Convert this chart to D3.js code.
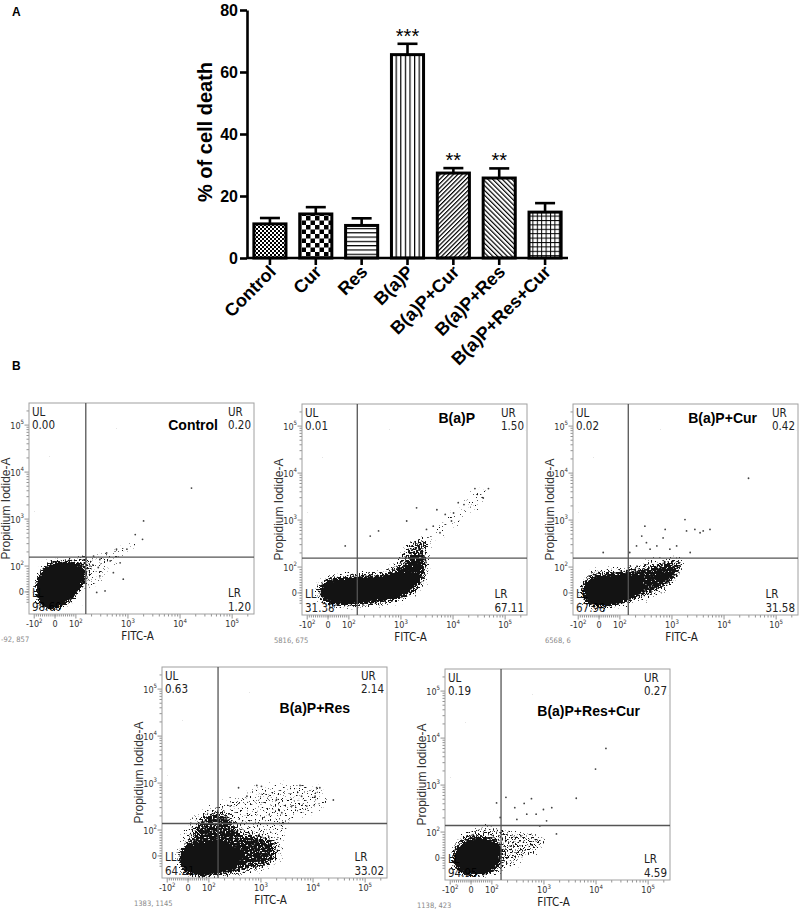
<!DOCTYPE html>
<html><head><meta charset="utf-8">
<script src="https://cdn.jsdelivr.net/npm/d3@7"></script>
<style>body{margin:0;background:#fff} svg{display:block}</style>
</head><body><svg id="c" width="800" height="911"></svg>
<script>
// ================= Panel A data =================
const categories = ["Control","Cur","Res","B(a)P","B(a)P+Cur","B(a)P+Res","B(a)P+Res+Cur"];
const meanDeath = [11.0, 14.2, 10.5, 65.6, 27.4, 25.8, 14.8];
const semDeath  = [1.9, 2.2, 2.3, 3.5, 1.6, 3.1, 2.9];
const significance = ["", "", "", "***", "**", "**", ""];
const yTicksA = [0, 20, 40, 60, 80];

// ================= Panel B data =================
const flowTitles = ["Control","B(a)P","B(a)P+Cur","B(a)P+Res","B(a)P+Res+Cur"];
const quadUL = ["0.00","0.01","0.02","0.63","0.19"];
const quadUR = ["0.20","1.50","0.42","2.14","0.27"];
const quadLL = ["98.60","31.38","67.98","64.21","94.95"];
const quadLR = ["1.20","67.11","31.58","33.02","4.59"];
const gateFITC = [155, 145, 145, 150, 150];
const gatePI   = [155, 155, 155, 138, 138];
const cursorText = ["-92, 857","5816, 675","6568, 6","1383, 1145","1138, 423"];
const xTickValues = [-100, 0, 100, 1000, 10000, 100000];
const xTickBase = ["-10","0","10","10","10","10"];
const xTickSup  = ["2","","2","3","4","5"];
const yTickValues = [0, 100, 1000, 10000, 100000];
const yTickBase = ["0","10","10","10","10"];
const yTickSup  = ["","2","3","4","5"];

// event-cloud outlines and isolated events, in display decades [FITC-A, PI-A]
const controlHalo = [[1.22,1.86],[1.44,2.14],[1.82,2.16],[2.21,2.25],[2.27,2.07],[2.22,1.79],[2.14,1.51],[1.95,1.23],[1.70,1.07],[1.38,1.07],[1.22,1.19],[1.18,1.51]];
const controlStreak = [[2.14,2.07],[2.46,2.29],[2.85,2.43],[3.10,2.57],[3.17,2.43],[2.91,2.14],[2.66,1.86],[2.40,1.51],[2.21,1.44]];
const controlCore = [[1.34,1.79],[1.47,1.97],[1.66,2.06],[1.92,2.06],[2.08,1.97],[2.13,1.80],[2.08,1.61],[1.98,1.44],[1.82,1.26],[1.66,1.14],[1.47,1.12],[1.34,1.23],[1.28,1.44],[1.28,1.64]];
const controlDots = [[4.22,3.66],[3.30,2.96],[3.28,2.57],[3.14,2.67],[2.98,2.36],[2.78,2.36],[2.66,2.11],[2.46,1.79],[2.91,1.72],[2.56,1.47],[2.72,1.86],[2.40,1.44],[2.34,2.21],[2.46,2.14],[2.59,2.28],[2.85,2.07],[2.27,2.00],[2.43,1.97]];

const bapHalo = [[1.38,1.60],[1.57,1.81],[1.96,1.88],[2.41,1.92],[2.79,2.02],[2.98,2.31],[3.17,2.55],[3.43,2.59],[3.56,2.38],[3.53,1.95],[3.43,1.53],[3.17,1.32],[2.79,1.19],[2.21,1.14],[1.70,1.14],[1.41,1.28]];
const bapStreak = [[3.05,2.45],[3.62,2.80],[4.01,3.22],[4.39,3.65],[4.71,3.72],[4.65,3.44],[4.13,2.94],[3.75,2.59],[3.49,2.38]];
const bapMid = [[1.48,1.60],[1.64,1.71],[1.96,1.74],[2.34,1.78],[2.73,1.81],[2.92,1.92],[3.05,2.06],[3.21,2.24],[3.37,2.31],[3.46,2.17],[3.43,1.88],[3.30,1.60],[3.05,1.42],[2.73,1.32],[2.34,1.25],[1.96,1.21],[1.64,1.25],[1.48,1.39]];
const bapCore = [[1.50,1.58],[1.66,1.70],[1.96,1.72],[2.34,1.76],[2.73,1.78],[2.95,1.85],[3.10,1.80],[3.20,1.62],[3.05,1.45],[2.73,1.35],[2.34,1.28],[1.96,1.24],[1.64,1.28],[1.50,1.40]];
const bapDots = [[1.93,2.45],[2.57,2.77],[2.41,2.66],[3.30,3.26],[3.11,2.98],[3.69,3.22],[4.10,3.37],[4.21,3.33],[4.42,3.67],[4.68,3.67],[4.58,3.47],[3.97,2.98],[3.62,2.87],[3.49,2.80],[3.85,3.12],[4.01,3.15],[3.75,2.73]];

const curHalo = [[1.23,1.60],[1.46,1.92],[1.94,1.99],[2.39,2.09],[2.83,2.20],[3.15,2.24],[3.25,2.13],[3.15,1.81],[2.83,1.46],[2.32,1.25],[1.87,1.11],[1.43,1.11],[1.23,1.25]];
const curMid = [[1.33,1.67],[1.49,1.81],[1.81,1.85],[2.13,1.88],[2.51,1.95],[2.90,2.06],[3.09,2.09],[3.12,1.95],[2.96,1.71],[2.64,1.53],[2.26,1.39],[1.94,1.25],[1.62,1.18],[1.39,1.25],[1.30,1.46]];
const curCore = [[1.36,1.60],[1.55,1.74],[2.00,1.78],[2.32,1.74],[2.39,1.53],[2.13,1.32],[1.81,1.21],[1.52,1.21],[1.36,1.35]];
const curDots = [[1.68,2.31],[2.48,2.87],[2.42,2.66],[2.51,2.52],[2.87,2.80],[2.83,2.62],[3.25,3.01],[3.28,2.77],[3.44,2.80],[3.54,2.73],[3.60,2.77],[3.73,2.80],[3.35,2.31],[4.47,3.89],[2.32,2.45],[2.19,2.31],[2.58,2.38],[2.71,2.45],[2.96,2.38],[3.09,2.45]];

const resHalo = [[1.41,1.66],[1.70,2.37],[2.15,2.58],[2.60,2.79],[3.05,2.97],[3.56,3.01],[4.07,2.93],[4.39,2.65],[4.07,2.37],[3.69,2.23],[3.49,1.95],[3.43,1.38],[3.05,1.10],[2.41,0.99],[1.77,0.96],[1.45,1.10]];
const resMid = [[1.45,1.52],[1.64,1.77],[1.77,2.09],[1.96,2.30],[2.21,2.37],[2.41,2.23],[2.60,1.95],[2.92,1.88],[3.17,1.80],[3.30,1.59],[3.17,1.31],[2.85,1.20],[2.47,1.10],[1.96,1.03],[1.57,1.06],[1.43,1.28]];
const resCore = [[1.51,1.56],[1.70,1.66],[2.02,1.70],[2.34,1.66],[2.53,1.56],[2.60,1.38],[2.41,1.20],[2.09,1.11],[1.73,1.10],[1.54,1.20],[1.48,1.38]];
const resDots = [[2.57,2.90],[2.92,2.95],[3.01,2.93],[3.75,2.95],[3.78,2.72],[4.07,2.90],[4.13,2.90],[4.39,2.64],[4.04,2.72],[3.88,2.51],[3.59,2.51],[3.30,2.65],[3.40,2.37],[2.73,2.72],[2.41,2.51]];

const resCurHalo = [[1.20,1.57],[1.36,1.92],[1.64,2.09],[2.03,2.13],[2.35,2.06],[2.80,1.99],[3.05,1.85],[2.92,1.57],[2.60,1.42],[2.22,1.14],[1.84,1.03],[1.45,1.03],[1.20,1.21]];
const resCurCore = [[1.36,1.64],[1.52,1.79],[1.77,1.85],[2.03,1.79],[2.16,1.60],[2.12,1.35],[1.96,1.18],[1.71,1.13],[1.45,1.16],[1.32,1.32],[1.29,1.49]];
const resCurDots = [[4.19,3.78],[3.99,3.34],[3.62,2.72],[3.24,1.96],[3.15,2.52],[2.99,2.48],[2.76,2.71],[2.62,2.61],[2.44,2.52],[2.27,2.74],[2.09,2.62],[2.67,2.38],[2.85,2.38],[3.05,2.24],[2.92,2.13],[2.48,2.27],[2.16,2.31]];

// ================= layout / style =================
const BOLD = "'Liberation Sans', Arial, sans-serif";
const NARROW = "'Liberation Sans Narrow','Arial Narrow','DejaVu Sans Condensed',sans-serif";
const svg = d3.select("#c");
const defs = svg.append("defs");

// bar fill patterns
function pat(id, w, h, draw, tf) {
  const p = defs.append("pattern").attr("id", id).attr("patternUnits","userSpaceOnUse")
    .attr("width", w).attr("height", h);
  if (tf) p.attr("patternTransform", tf);
  p.append("rect").attr("width", w).attr("height", h).attr("fill", "#fff");
  draw(p);
}
pat("p0", 4, 4, p => { p.append("rect").attr("width",2).attr("height",2); p.append("rect").attr("x",2).attr("y",2).attr("width",2).attr("height",2); });
pat("p1", 9, 9, p => { p.append("rect").attr("width",4.5).attr("height",4.5); p.append("rect").attr("x",4.5).attr("y",4.5).attr("width",4.5).attr("height",4.5); });
pat("p2", 10, 4.3, p => p.append("rect").attr("width",10).attr("height",1.2));
pat("p3", 4.6, 10, p => p.append("rect").attr("width",1.2).attr("height",10));
pat("p4", 3.1, 10, p => p.append("rect").attr("width",1.2).attr("height",10), "rotate(45)");
pat("p5", 3.4, 10, p => p.append("rect").attr("width",1.2).attr("height",10), "rotate(-45)");
pat("p6", 4.4, 4.4, p => { p.append("rect").attr("width",1).attr("height",4.4); p.append("rect").attr("width",4.4).attr("height",1); });

// ================= Panel A =================
svg.append("text").attr("x",12).attr("y",16).attr("font-family",BOLD).attr("font-weight","bold")
  .attr("font-size",12).text("A");

const xA = d3.scaleBand().domain(categories).range([247, 568]).paddingInner(0.3).paddingOuter(0.15);
const yA = d3.scaleLinear().domain([0, 80]).range([258, 10]);

const gA = svg.append("g");
const bw = xA.bandwidth();
categories.forEach((c, i) => {
  const cx = xA(c) + bw / 2;
  const top = meanDeath[i] + semDeath[i];
  gA.append("line").attr("x1",cx).attr("x2",cx).attr("y1",yA(meanDeath[i])).attr("y2",yA(top))
    .attr("stroke","#000").attr("stroke-width",2.6);
  gA.append("line").attr("x1",cx-10).attr("x2",cx+10).attr("y1",yA(top)).attr("y2",yA(top))
    .attr("stroke","#000").attr("stroke-width",2.6);
  gA.append("rect").attr("x",xA(c)).attr("y",yA(meanDeath[i])).attr("width",bw)
    .attr("height",yA(0)-yA(meanDeath[i])).attr("fill",`url(#p${i})`)
    .attr("stroke","#000").attr("stroke-width",3);
  if (significance[i]) {
    gA.append("text").attr("x",cx).attr("y",yA(top)-1).attr("text-anchor","middle")
      .attr("font-family",BOLD).attr("font-size",20).text(significance[i]);
  }
});

const axL = svg.append("g").attr("transform","translate(247,0)")
  .call(d3.axisLeft(yA).tickValues(yTicksA).tickSize(7).tickSizeOuter(0).tickPadding(2));
const axB = svg.append("g").attr("transform","translate(0,258)")
  .call(d3.axisBottom(xA).tickSize(7).tickSizeOuter(0));
[axL, axB].forEach(a => {
  a.select(".domain").attr("stroke","#000").attr("stroke-width",2.6);
  a.selectAll(".tick line").attr("stroke","#000").attr("stroke-width",2.6);
  a.selectAll("text").attr("font-family",BOLD).attr("font-weight","bold").attr("fill","#000");
});
axB.select(".domain").attr("d","M247,0H568");
axL.selectAll("text").attr("font-size",16);
axB.selectAll("text").attr("font-size",18).attr("text-anchor","end")
  .attr("x",0).attr("y",0).attr("dy",0).attr("transform","translate(7,15) rotate(-45)");

svg.append("text").attr("transform","translate(212,132) rotate(-90)").attr("text-anchor","middle")
  .attr("font-family",BOLD).attr("font-weight","bold").attr("font-size",20).text("% of cell death");

// ================= Panel B =================
svg.append("text").attr("x",12).attr("y",370).attr("font-family",BOLD).attr("font-weight","bold")
  .attr("font-size",12).text("B");

const PW = 225, PH = 211;
const layoutB = [
  {x:29,  y:403, tx:189, ty:27},
  {x:302, y:404, tx:173, ty:19},
  {x:573, y:404, tx:184, ty:19},
  {x:162, y:667, tx:188, ty:46},
  {x:445, y:669, tx:195, ty:47}
];
const flowClouds = [
  {layers:[[controlHalo,0.34],[controlStreak,0.24],[controlCore,1]], dots:controlDots},
  {layers:[[bapHalo,0.36],[bapStreak,0.22],[bapMid,0.5],[bapCore,1]], dots:bapDots},
  {layers:[[curHalo,0.34],[curMid,0.5],[curCore,1]], dots:curDots},
  {layers:[[resHalo,0.26],[resMid,0.45],[resCore,1]], dots:resDots},
  {layers:[[resCurHalo,0.34],[resCurCore,1]], dots:resCurDots}
];

const xB = d3.scaleLinear().domain([1.1, 5.42]).range([0, PW]);
const yB = d3.scaleLinear().domain([0.98, 5.47]).range([PH, 0]);
const dispX = v => v >= 100 ? Math.log10(v) : 1.6 + 0.4 * v / 100;
const dispY = v => v >= 100 ? Math.log10(v) : 1.45 + 0.55 * v / 100;

// speckle filter: turns polygon density masks into scattered events
const f = defs.append("filter").attr("id","speck").attr("filterUnits","userSpaceOnUse")
  .attr("x",0).attr("y",0).attr("width",PW).attr("height",PH)
  .attr("color-interpolation-filters","sRGB");
f.append("feGaussianBlur").attr("in","SourceAlpha").attr("stdDeviation",3).attr("result","bm");
f.append("feTurbulence").attr("type","fractalNoise").attr("baseFrequency",0.6).attr("numOctaves",2)
  .attr("seed",5).attr("result","tn");
f.append("feColorMatrix").attr("in","tn").attr("type","matrix")
  .attr("values","0 0 0 0 0  0 0 0 0 0  0 0 0 0 0  1 0 0 0 0").attr("result","na");
f.append("feComposite").attr("in","na").attr("in2","bm").attr("operator","arithmetic")
  .attr("k1",0).attr("k2",1).attr("k3",0.95).attr("k4",-0.86).attr("result","sum");
f.append("feComponentTransfer").attr("in","sum").append("feFuncA").attr("type","linear")
  .attr("slope",10).attr("intercept",0);

const minorX = d3.range(-90, 100, 10).concat(
  [100,1000,10000].flatMap(d => d3.range(2,10).map(m => m*d)), [200000]);
const minorY = d3.range(-40, 100, 10).concat(
  [100,1000,10000].flatMap(d => d3.range(2,10).map(m => m*d)), [200000]);

const cloudLine = d3.line().x(d => xB(d[0])).y(d => yB(d[1])).curve(d3.curveCatmullRomClosed.alpha(0.5));

flowTitles.forEach((title, i) => {
  const L = layoutB[i];
  const g = svg.append("g").attr("transform",`translate(${L.x},${L.y})`);

  // ticks
  const tk = g.append("g").attr("stroke","#777").attr("stroke-width",0.8);
  minorX.forEach(v => { const x = xB(dispX(v)); if (x > 0 && x < PW) tk.append("line").attr("x1",x).attr("x2",x).attr("y1",PH).attr("y2",PH+2.5); });
  xTickValues.forEach(v => { const x = xB(dispX(v)); tk.append("line").attr("x1",x).attr("x2",x).attr("y1",PH).attr("y2",PH+4.5); });
  minorY.forEach(v => { const y = yB(dispY(v)); if (y > 0 && y < PH) tk.append("line").attr("x1",0).attr("x2",-2.5).attr("y1",y).attr("y2",y); });
  yTickValues.forEach(v => { const y = yB(dispY(v)); tk.append("line").attr("x1",0).attr("x2",-4.5).attr("y1",y).attr("y2",y); });

  xTickValues.forEach((v, k) => {
    const t = g.append("text").attr("x", xB(dispX(v))).attr("y", PH+12.5).attr("text-anchor","middle")
      .attr("font-family",NARROW).attr("font-size",9).attr("fill","#333").text(xTickBase[k]);
    if (xTickSup[k]) t.append("tspan").attr("dy",-4).attr("font-size",6).text(xTickSup[k]);
  });
  yTickValues.forEach((v, k) => {
    const t = g.append("text").attr("x", -5).attr("y", yB(dispY(v)) + 3.5).attr("text-anchor","end")
      .attr("font-family",NARROW).attr("font-size",9).attr("fill","#333").text(yTickBase[k]);
    if (yTickSup[k]) t.append("tspan").attr("dy",-5).attr("font-size",6).text(yTickSup[k]);
  });

  // quadrant labels
  const qtext = (x, y, s, anchor) => g.append("text").attr("x",x).attr("y",y).attr("text-anchor",anchor||"start")
    .attr("font-family",NARROW).attr("font-size",11.5).attr("fill","#222").text(s);
  qtext(3, 13, "UL"); qtext(3, 26, quadUL[i]);
  qtext(3, 194, "LL"); qtext(3, 208, quadLL[i]);
  const ur = qtext(PW-3, 26, quadUR[i], "end");
  const urx = PW - 3 - ur.node().getComputedTextLength();
  qtext(urx, 13, "UR");
  const lr = qtext(PW-3, 208, quadLR[i], "end");
  const lrx = PW - 3 - lr.node().getComputedTextLength();
  qtext(lrx, 194, "LR");

  g.append("text").attr("x",L.tx).attr("y",L.ty).attr("text-anchor","end")
    .attr("font-family",BOLD).attr("font-weight","bold").attr("font-size",14).attr("fill","#000").text(title);

  // events
  const cloud = g.append("g").attr("filter","url(#speck)").attr("opacity",0.92);
  flowClouds[i].layers.forEach(([pts, a]) => {
    cloud.append("path").attr("d", cloudLine(pts)).attr("fill","#000").attr("fill-opacity", a);
  });
  g.append("g").selectAll("circle").data(flowClouds[i].dots).join("circle")
    .attr("cx", d => xB(d[0])).attr("cy", d => yB(d[1])).attr("r", 0.9).attr("fill","#444");

  // frame and quadrant gates
  g.append("rect").attr("width",PW).attr("height",PH).attr("fill","none").attr("stroke","#a0a0a0").attr("stroke-width",1);
  const gx = xB(dispX(gateFITC[i])), gy = yB(dispY(gatePI[i]));
  g.append("line").attr("x1",gx).attr("x2",gx).attr("y1",0).attr("y2",PH).attr("stroke","#555").attr("stroke-width",1.3);
  g.append("line").attr("x1",0).attr("x2",PW).attr("y1",gy).attr("y2",gy).attr("stroke","#555").attr("stroke-width",1.3);

  // axis titles
  g.append("text").attr("x", PW/2 - 4).attr("y", PH + 26).attr("text-anchor","middle")
    .attr("font-family",NARROW).attr("font-size",11.5).attr("fill","#222").text("FITC-A");
  g.append("text").attr("transform",`translate(-19,${PH/2}) rotate(-90)`).attr("text-anchor","middle")
    .attr("font-family",BOLD).attr("font-size",12).attr("fill","#333").text("Propidium Iodide-A");
  g.append("text").attr("x",-28).attr("y",PH+28).attr("font-family",NARROW).attr("font-size",7.5)
    .attr("fill","#888").text(cursorText[i]);
});
</script></body></html>
